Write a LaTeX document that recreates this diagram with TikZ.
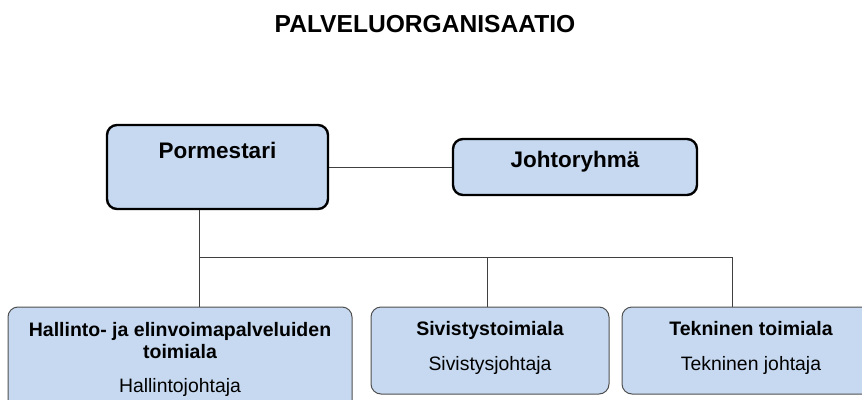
\documentclass[tikz,border=0pt]{standalone}
\usepackage{fontspec}
\setmainfont{Liberation Sans}
\definecolor{boxblue}{HTML}{C6D9F0}
\definecolor{boxgray}{HTML}{505050}
\definecolor{linegray}{HTML}{404040}
\begin{document}
\begin{tikzpicture}[x=1pt,y=-1pt,
  topbox/.style={draw=black, line width=2.4pt, fill=boxblue, rounded corners=10pt, inner sep=0pt},
  subbox/.style={draw=boxgray, line width=1pt, fill=boxblue, rounded corners=10pt, inner sep=0pt},
  conn/.style={draw=linegray, line width=1pt},
  bigtxt/.style={anchor=base, inner sep=0pt, font=\bfseries\fontsize{22.5}{26}\selectfont},
  btxt/.style={anchor=base, inner sep=0pt, font=\bfseries\fontsize{19.5}{23}\selectfont},
  rtxt/.style={anchor=base, inner sep=0pt, font=\fontsize{19.4}{23}\selectfont},
  titletxt/.style={anchor=base, inner sep=0pt, font=\bfseries\fontsize{24.6}{29}\selectfont}
]
\useasboundingbox (0,0) rectangle (862,399);
\clip (0,0) rectangle (862,399);
\fill[white] (0,0) rectangle (862,399);

\node[titletxt] (title) at (425,32) {PALVELUORGANISAATIO};

% boxes
\node[topbox, minimum width=221pt, minimum height=84pt] (por) at (217.5,167) {};
\node[topbox, minimum width=244pt, minimum height=56pt] (joh) at (575,167) {};
\node[subbox, minimum width=344pt, minimum height=113pt] (hal) at (180,363.5) {};
\node[subbox, minimum width=238pt, minimum height=87pt] (siv) at (490,350.5) {};
\node[subbox, minimum width=258pt, minimum height=87pt] (tek) at (751,350.5) {};

% texts
\node[bigtxt] (tpor) at (217.5,158) {Pormestari};
\node[bigtxt] (tjoh) at (575,167) {Johtoryhmä};
\node[btxt] (thal1) at (180,336) {Hallinto- ja elinvoimapalveluiden};
\node[btxt] (thal2) at (180,358) {toimiala};
\node[rtxt] (thal3) at (180,392) {Hallintojohtaja};
\node[btxt] (tsiv1) at (490,335) {Sivistystoimiala};
\node[rtxt] (tsiv2) at (490,370) {Sivistysjohtaja};
\node[btxt] (ttek1) at (751,335) {Tekninen toimiala};
\node[rtxt] (ttek2) at (751,370) {Tekninen johtaja};

% connectors
\coordinate (xa) at (199,257);
\coordinate (xb) at (487,257);
\coordinate (xc) at (732,257);
\draw[conn] (por.east) -- (joh.west);
\draw[conn] (por.south -| xa) -- (hal.north -| xa);
\draw[conn] (xa) -- (xc) -- (tek.north -| xc);
\draw[conn] (xb) -- (siv.north -| xb);
\end{tikzpicture}
\end{document}
